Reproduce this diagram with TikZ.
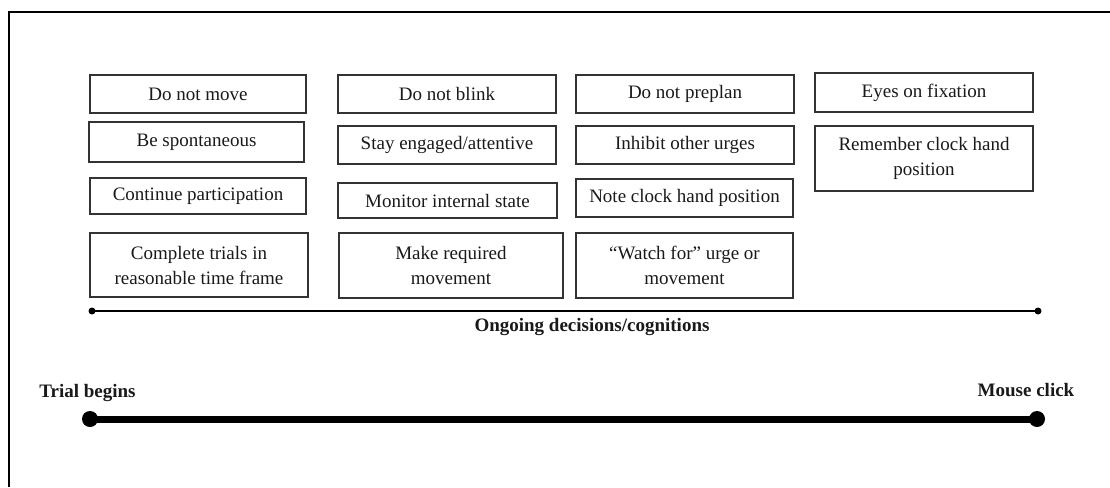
\documentclass[tikz,border=0pt]{standalone}
\usepackage{fontspec}
\setmainfont{Liberation Serif}
\usepackage{tikz}
\usetikzlibrary{positioning}

\begin{document}
\begin{tikzpicture}[x=1pt,y=-1pt,font=\fontsize{19}{25}\selectfont]
\tikzstyle{cue}=[rectangle,draw=black!80,line width=1.1pt,align=center,inner sep=2pt,text=black!90]
\tikzstyle{lab}=[font=\fontsize{19}{23}\selectfont\bfseries,text=black!90]
\tikzstyle{tick}=[circle,fill=black,inner sep=0pt,minimum size=7pt]
\tikzstyle{stop}=[circle,fill=black,inner sep=0pt,minimum size=16pt]
\useasboundingbox (0,0) rectangle (1110,487);
% frame
\draw[line width=2pt] (9,487) -- (9,12) -- (1110,12);
% column 1
\node[cue,minimum width=216pt,minimum height=38pt] (move) at (198,94) {Do not move};
\node[cue,minimum width=215pt,minimum height=40pt] (spont) at (196.5,142) {Be spontaneous};
\node[cue,minimum width=216pt,minimum height=36pt] (cont) at (198,196) {Continue participation};
\node[cue,minimum width=218pt,minimum height=64pt] (trials) at (199,265) {Complete trials in\\reasonable time frame};
% column 2
\node[cue,minimum width=218pt,minimum height=38pt] (blink) at (447,94) {Do not blink};
\node[cue,minimum width=218pt,minimum height=38pt] (engage) at (447,145) {Stay engaged/attentive};
\node[cue,minimum width=219pt,minimum height=35pt] (state) at (447.5,200.5) {Monitor internal state};
\node[cue,minimum width=224pt,minimum height=65pt] (req) at (451,265.5) {Make required\\movement};
% column 3
\node[cue,minimum width=218pt,minimum height=38pt] (preplan) at (685,94) {Do not preplan};
\node[cue,minimum width=218pt,minimum height=38pt] (urges) at (685,145) {Inhibit other urges};
\node[cue,minimum width=217pt,minimum height=38pt] (note) at (684.5,198) {Note clock hand position};
\node[cue,minimum width=217pt,minimum height=65pt] (watch) at (684.5,265.5) {``Watch for'' urge or\\movement};
% column 4
\node[cue,minimum width=218pt,minimum height=39pt] (eyes) at (924,92.5) {Eyes on fixation};
\node[cue,minimum width=218pt,minimum height=65pt] (clock) at (924,158.5) {Remember clock hand\\position};
% ongoing line
\node[tick] (on1) at (92,311) {};
\node[tick] (on2) at (1038,311) {};
\draw[line width=2.5pt] (on1.center) -- (on2.center);
\node[lab] (ongoing) at (592,327) {Ongoing decisions/cognitions};
% trial line
\node[stop] (t1) at (90,419) {};
\node[stop] (t2) at (1037,419) {};
\draw[line width=7pt] (t1.center) -- (t2.center);
\node[lab] (begin) at (87.5,393) {Trial begins};
\node[lab] (click) at (1026,390) {Mouse click};
\end{tikzpicture}
\end{document}
